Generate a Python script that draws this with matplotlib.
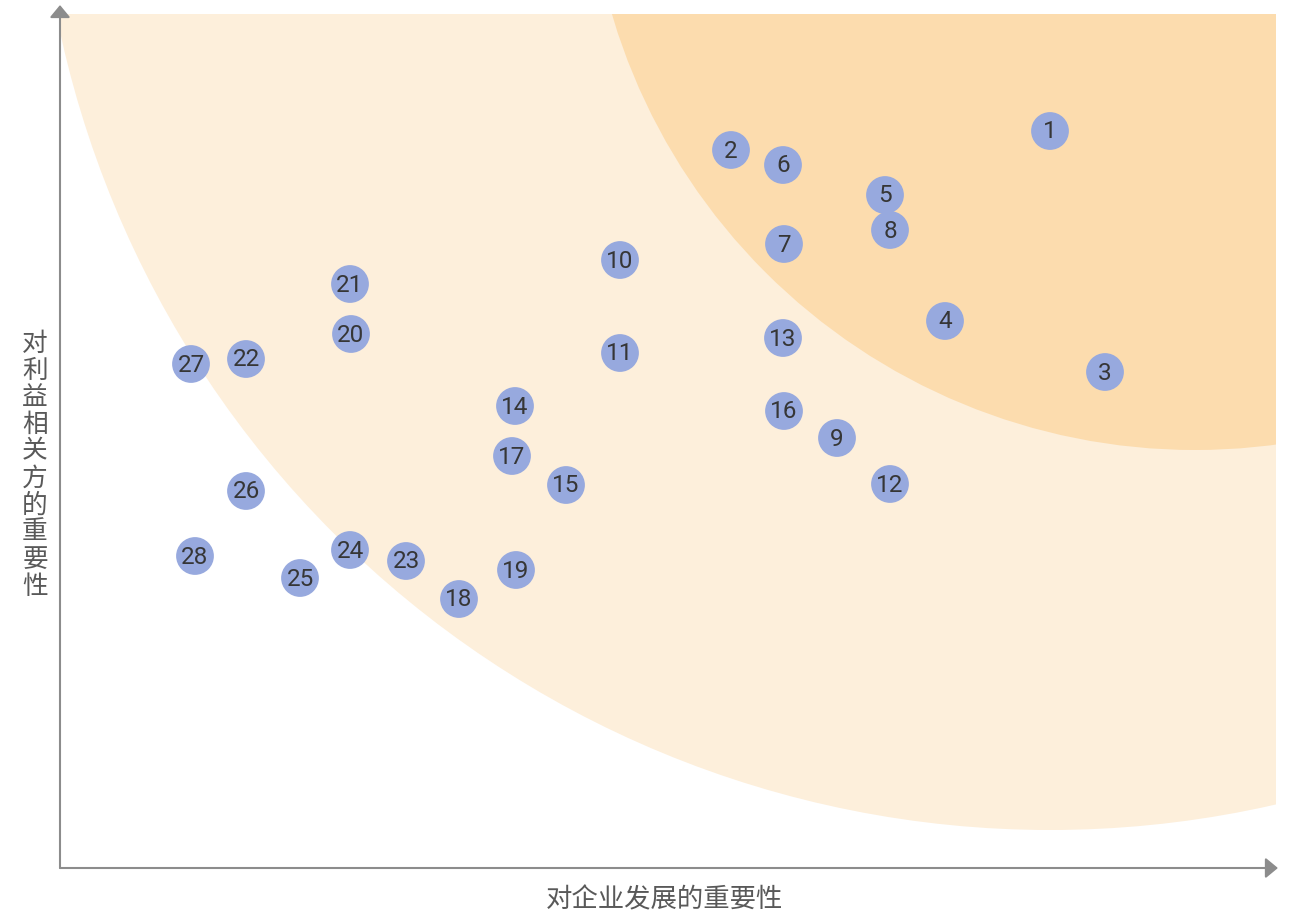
import matplotlib.pyplot as plt
from matplotlib.patches import Circle

plt.rcParams['font.family'] = ['Noto Sans CJK SC', 'DejaVu Sans']

# Topic numbers and their positions (importance to company, importance to stakeholders)
labels = [str(i) for i in range(1, 29)]
x_company = [990, 671, 1045, 885, 825, 723, 724, 830, 777, 560,
             560, 830, 723, 455, 506, 724, 452, 399, 456, 291,
             290, 186, 346, 290, 240, 186, 131, 135]
y_stake = [737, 718, 496, 547, 673, 703, 624, 638, 430, 608,
           515, 384, 530, 462, 383, 457, 412, 269, 298, 534,
           584, 509, 307, 318, 290, 377, 504, 312]

x_label = "对企业发展的重要性"
y_label = "对利益相关方的重要性"

# background zones (centre x, centre y, radius) in data units
outer_zone = (990, 1051, 1013)
inner_zone = (1135, 1026, 608)

W, H = 1294, 914
fig = plt.figure(figsize=(W / 100, H / 100), dpi=100)
ax = fig.add_axes([60 / W, (H - 868) / H, 1216 / W, 854 / H])
ax.set_xlim(0, 1216)
ax.set_ylim(0, 854)
ax.set_aspect('equal')
ax.axis('off')

ax.add_patch(Circle(outer_zone[:2], outer_zone[2], color='#fdefdb', lw=0, zorder=1))
ax.add_patch(Circle(inner_zone[:2], inner_zone[2], color='#fcdcae', lw=0, zorder=2))

ax.scatter(x_company, y_stake, s=740, color='#97a9de', edgecolors='none', zorder=3)
for lab, x, y in zip(labels, x_company, y_stake):
    ax.text(x, y - 1, lab, ha='center', va='center', fontsize=17.5, family='Roboto',
            color='#363636', zorder=4)

# axes with arrows
arrow = dict(arrowstyle='-|>,head_width=0.62,head_length=0.75',
             color='#8c8c8c', lw=1.5, shrinkA=0, shrinkB=0)
ax.annotate('', xy=(0, 1.0105), xytext=(0, 0), xycoords='axes fraction',
            arrowprops=arrow, annotation_clip=False, zorder=5)
ax.annotate('', xy=(1.0016, 0), xytext=(0, 0), xycoords='axes fraction',
            arrowprops=arrow, annotation_clip=False, zorder=5)

fig.text(664 / W, 1 - 900 / H, x_label, ha='center', va='center', fontsize=19, color='#595959')
fig.text(35 / W, 1 - 465 / H, "\n".join(y_label), ha='center', va='center', fontsize=18.5,
         color='#595959', linespacing=1.05)

fig.savefig('out.png', dpi=100)
